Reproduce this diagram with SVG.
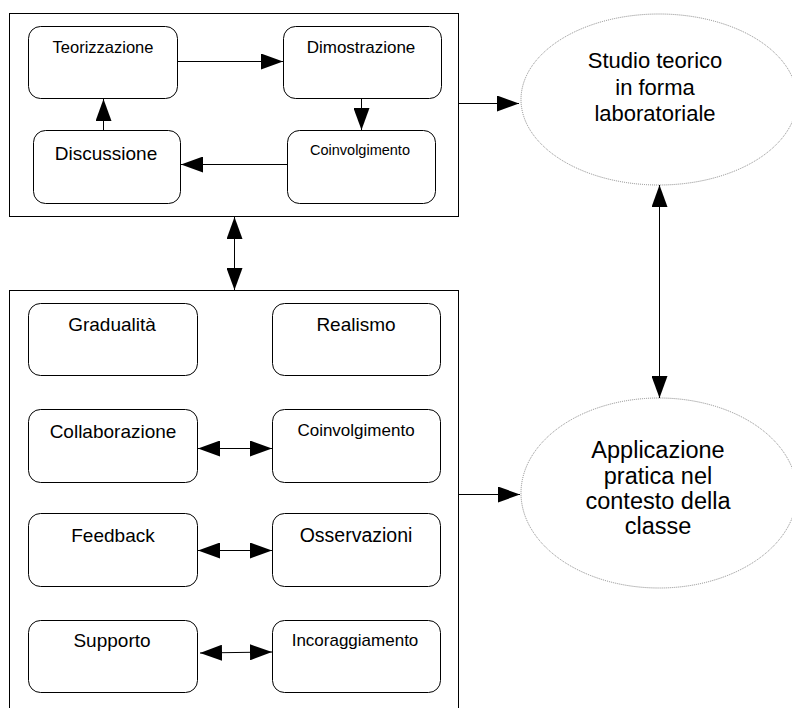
<svg xmlns="http://www.w3.org/2000/svg" width="792" height="708" viewBox="0 0 792 708">
<defs>
<style>
.frame{fill:#fff;stroke:#000;stroke-width:1}
.box{fill:#fff;stroke:#000;stroke-width:1}
.ell{fill:#fff;stroke:#888;stroke-width:1;stroke-dasharray:1 1}
.conn{fill:none;stroke:#000;stroke-width:1}
text{font-family:"Liberation Sans",Arial,sans-serif;fill:#000;text-anchor:middle}
</style>
<marker id="ah" markerUnits="userSpaceOnUse" markerWidth="22" markerHeight="16" refX="22" refY="8" orient="auto-start-reverse" viewBox="0 0 22 16">
<path d="M0,0 L22,8 L0,16 z" fill="#000"/>
</marker>
</defs>
<rect width="792" height="708" fill="#fff"/>
<g id="frame-top"><rect class="frame" x="9.5" y="13.5" width="449" height="203"/></g>
<g id="frame-bottom"><rect class="frame" x="9.5" y="290.5" width="449" height="440"/></g>

<g id="teorizzazione"><rect class="box" x="28.5" y="26.5" width="149" height="72" rx="12"/><text x="103" y="52.5" font-size="16.5">Teorizzazione</text></g>
<g id="dimostrazione"><rect class="box" x="283.5" y="26.5" width="158" height="72" rx="12"/><text x="361" y="52.5" font-size="17">Dimostrazione</text></g>
<g id="discussione"><rect class="box" x="33.5" y="130.5" width="147" height="73" rx="12"/><text x="106" y="159.5" font-size="19">Discussione</text></g>
<g id="coinvolgimento-top"><rect class="box" x="287.5" y="130.5" width="148" height="73" rx="12"/><text x="360" y="155" font-size="14.5">Coinvolgimento</text></g>

<g id="studio"><ellipse class="ell" cx="659" cy="99.5" rx="138" ry="85.5"/><text font-size="22"><tspan x="655" y="68">Studio teorico</tspan><tspan x="655" y="94.5">in forma</tspan><tspan x="655" y="121">laboratoriale</tspan></text></g>
<g id="applicazione"><ellipse class="ell" cx="659" cy="493" rx="138" ry="95"/><text font-size="23.5"><tspan x="658" y="458">Applicazione</tspan><tspan x="658" y="483.5">pratica nel</tspan><tspan x="658" y="509">contesto della</tspan><tspan x="658" y="534">classe</tspan></text></g>

<g id="gradualita"><rect class="box" x="28.5" y="303.5" width="169" height="72" rx="12"/><text x="112" y="331" font-size="19">Gradualità</text></g>
<g id="realismo"><rect class="box" x="272.5" y="303.5" width="168" height="72" rx="12"/><text x="356" y="331" font-size="19">Realismo</text></g>
<g id="collaborazione"><rect class="box" x="28.5" y="409.5" width="169" height="73" rx="12"/><text x="113" y="438" font-size="19">Collaborazione</text></g>
<g id="coinvolgimento-bottom"><rect class="box" x="272.5" y="409.5" width="168" height="73" rx="12"/><text x="356" y="436" font-size="17">Coinvolgimento</text></g>
<g id="feedback"><rect class="box" x="28.5" y="513.5" width="169" height="73" rx="12"/><text x="113" y="542" font-size="19">Feedback</text></g>
<g id="osservazioni"><rect class="box" x="272.5" y="513.5" width="168" height="73" rx="12"/><text x="356" y="542" font-size="19.5">Osservazioni</text></g>
<g id="supporto"><rect class="box" x="28.5" y="620.5" width="169" height="72" rx="12"/><text x="112" y="647" font-size="19">Supporto</text></g>
<g id="incoraggiamento"><rect class="box" x="272.5" y="620.5" width="168" height="72" rx="12"/><text x="355" y="646" font-size="17">Incoraggiamento</text></g>

<g id="connectors">
<path class="conn" d="M178,61.5 H283" marker-end="url(#ah)"/>
<path class="conn" d="M361.5,98 V130" marker-end="url(#ah)"/>
<path class="conn" d="M287,164.5 H181" marker-end="url(#ah)"/>
<path class="conn" d="M103.5,130 V99" marker-end="url(#ah)"/>
<path class="conn" d="M234.5,217 V290" marker-start="url(#ah)" marker-end="url(#ah)"/>
<path class="conn" d="M458,103.5 H519" marker-end="url(#ah)"/>
<path class="conn" d="M458,494.5 H520" marker-end="url(#ah)"/>
<path class="conn" d="M659.5,185 V398" marker-start="url(#ah)" marker-end="url(#ah)"/>
<path class="conn" d="M198,448.5 H272" marker-start="url(#ah)" marker-end="url(#ah)"/>
<path class="conn" d="M198,550.5 H272" marker-start="url(#ah)" marker-end="url(#ah)"/>
<path class="conn" d="M200,653 L272,652" marker-start="url(#ah)" marker-end="url(#ah)"/>
</g>
</svg>
